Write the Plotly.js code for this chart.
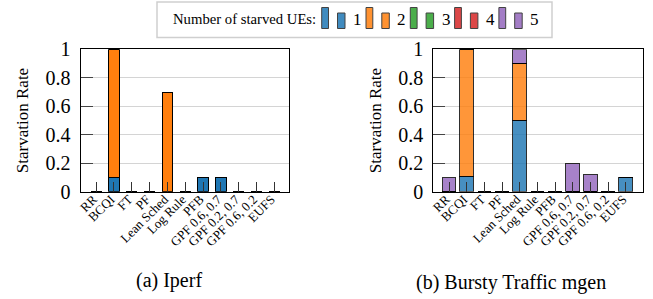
<!DOCTYPE html>
<html>
<head>
<meta charset="utf-8">
<script src="https://cdn.plot.ly/plotly-3.0.1.min.js"></script>
<style>
html,body{margin:0;padding:0;background:#fff;}
#chart{width:653px;height:299px;}
</style>
</head>
<body>
<div id="chart"></div>
<script>
// ---- data ----
const categories = ['RR','BCQI','FT','PF','Lean Sched','Log Rule','PFB','GPF 0.6, 0.7','GPF 0.2, 0.7','GPF 0.6, 0.2','EUFS'];
const seriesNames = ['1','2','3','4','5'];
const seriesColors = ['#1f77b4','#ff7f0e','#2ca02c','#d62728','#9467bd'];

// (a) Iperf
const iperf1 = [0, 0.10, 0, 0, 0,    0, 0.10, 0.10, 0,    0, 0];
const iperf2 = [0, 0.90, 0, 0, 0.70, 0, 0,    0,    0,    0, 0];
const iperf3 = [0, 0,    0, 0, 0,    0, 0,    0,    0,    0, 0];
const iperf4 = [0, 0,    0, 0, 0,    0, 0,    0,    0,    0, 0];
const iperf5 = [0, 0,    0, 0, 0,    0, 0,    0,    0,    0, 0];

// (b) Bursty Traffic mgen
const mgen1 = [0,    0.11, 0, 0, 0.50, 0, 0, 0,    0,    0, 0.10];
const mgen2 = [0,    0.89, 0, 0, 0.40, 0, 0, 0,    0,    0, 0];
const mgen3 = [0,    0,    0, 0, 0,    0, 0, 0,    0,    0, 0];
const mgen4 = [0,    0,    0, 0, 0,    0, 0, 0,    0,    0, 0];
const mgen5 = [0.10, 0,    0, 0, 0.10, 0, 0, 0.20, 0.12, 0, 0];

const yTickVals = [0, 0.2, 0.4, 0.6, 0.8, 1];
const yTickText = ['0', '0.2', '0.4', '0.6', '0.8', '1'];
const yTitle = 'Starvation Rate';
const captionA = '(a) Iperf';
const captionB = '(b) Bursty Traffic mgen';
const legendTitle = 'Number of starved UEs:';

// ---- build ----
const W = 653, H = 299;
const px = v => v / W;
const py = v => (H - v) / H;
const FONT = 'Liberation Serif';

const iperf = [iperf1, iperf2, iperf3, iperf4, iperf5];
const mgen = [mgen1, mgen2, mgen3, mgen4, mgen5];

const traces = [];
iperf.forEach((vals, i) => {
  traces.push({
    type: 'bar', x: categories, y: vals, xaxis: 'x', yaxis: 'y',
    name: seriesNames[i], showlegend: false, width: 0.6,
    marker: {color: seriesColors[i], line: {color: '#000', width: 1}},
    hoverinfo: 'skip'
  });
});
mgen.forEach((vals, i) => {
  traces.push({
    type: 'bar', x: categories, y: vals, xaxis: 'x2', yaxis: 'y2',
    name: seriesNames[i], showlegend: false, width: 0.78,
    marker: {color: seriesColors[i], opacity: 0.82, line: {color: '#000', width: 1}},
    hoverinfo: 'skip'
  });
});

function xAxis(domain, range) {
  return {
    domain: domain, type: 'category', categoryorder: 'array', categoryarray: categories,
    range: range, tickangle: -45, ticks: 'inside', ticklen: 10, tickwidth: 1, tickcolor: '#333',
    ticklabelstandoff: -6, ticklabelshift: -3,
    showgrid: false, showline: true, linecolor: '#000', linewidth: 1, mirror: true,
    tickfont: {family: FONT, size: 13, color: '#000'}, zeroline: false, fixedrange: true
  };
}
function yAxis(anchor) {
  return {
    domain: [py(191.7), py(49.3)], anchor: anchor, range: [0, 1],
    tickvals: yTickVals, ticktext: yTickText, ticks: 'inside', ticklen: 12, tickwidth: 1, tickcolor: '#444',
    ticklabelstandoff: 5,
    showgrid: true, gridcolor: '#d4d4d4', gridwidth: 1,
    showline: true, linecolor: '#000', linewidth: 1, mirror: true, zeroline: false,
    tickfont: {family: FONT, size: 20, color: '#000'},
    title: {text: yTitle, font: {family: FONT, size: 17, color: '#000'}, standoff: 12},
    fixedrange: true
  };
}

const shapes = [];
const annotations = [];
// legend box
shapes.push({type: 'rect', xref: 'paper', yref: 'paper', x0: px(157), x1: px(552), y0: py(37.5), y1: py(2),
  line: {color: '#cfcfcf', width: 1.5}, fillcolor: 'rgba(255,255,255,1)', layer: 'above'});
annotations.push({xref: 'paper', yref: 'paper', x: px(171), y: py(19.5), xanchor: 'left', yanchor: 'middle',
  text: legendTitle, showarrow: false, font: {family: FONT, size: 14.7, color: '#000'}});
seriesNames.forEach((nm, i) => {
  const off = i * 44.3;
  shapes.push({type: 'rect', xref: 'paper', yref: 'paper', x0: px(321.7 + off), x1: px(328.5 + off), y0: py(28.5), y1: py(7.5),
    line: {color: '#222', width: 1}, fillcolor: seriesColors[i], opacity: 0.85, layer: 'above'});
  shapes.push({type: 'rect', xref: 'paper', yref: 'paper', x0: px(337.5 + off), x1: px(345 + off), y0: py(28.5), y1: py(13),
    line: {color: '#222', width: 1}, fillcolor: seriesColors[i], opacity: 0.85, layer: 'above'});
  annotations.push({xref: 'paper', yref: 'paper', x: px(351 + off), y: py(20), xanchor: 'left', yanchor: 'middle',
    text: nm, showarrow: false, font: {family: FONT, size: 17, color: '#000'}});
});
// captions
annotations.push({xref: 'paper', yref: 'paper', x: px(168.5), y: py(280.5), xanchor: 'center', yanchor: 'middle',
  text: captionA, showarrow: false, font: {family: FONT, size: 20, color: '#000'}});
annotations.push({xref: 'paper', yref: 'paper', x: px(511), y: py(282.5), xanchor: 'center', yanchor: 'middle',
  text: captionB, showarrow: false, font: {family: FONT, size: 20, color: '#000'}});

const layout = {
  width: W, height: H, margin: {l: 0, r: 0, t: 0, b: 0}, paper_bgcolor: '#fff', plot_bgcolor: '#fff',
  barmode: 'stack', showlegend: false,
  xaxis: xAxis([px(80.5), px(288.5)], [-0.88, 10.8]),
  yaxis: yAxis('x'),
  xaxis2: xAxis([px(433.3), px(642.7)], [-0.89, 10.95]),
  yaxis2: yAxis('x2'),
  shapes: shapes, annotations: annotations,
  font: {family: FONT, color: '#000'}
};

Plotly.newPlot('chart', traces, layout, {staticPlot: true, displayModeBar: false});
</script>
</body>
</html>
